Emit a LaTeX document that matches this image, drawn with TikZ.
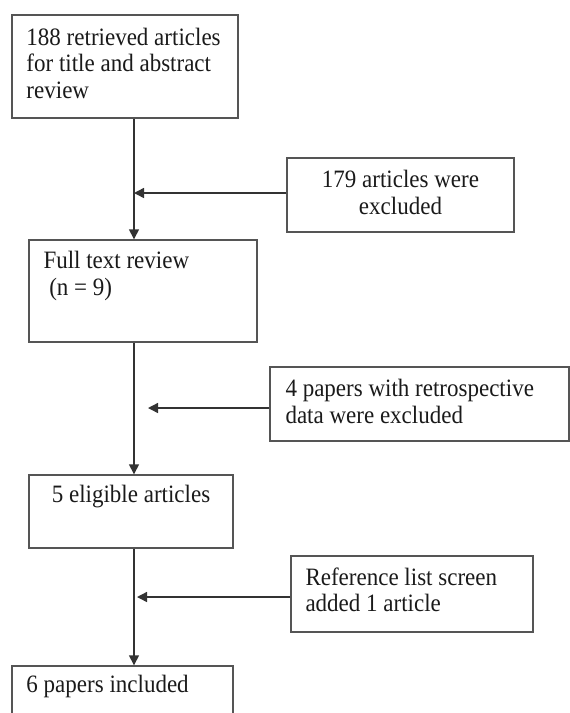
\documentclass[tikz,border=0pt]{standalone}
\usepackage{fontspec}
\setmainfont{Liberation Serif}[FakeStretch=0.92]
\usetikzlibrary{positioning, arrows.meta}
\definecolor{cLine}{HTML}{333333}
\definecolor{cBox}{HTML}{555555}
\definecolor{cText}{HTML}{1A1A1A}

\tikzset{
  flowbox/.style={draw=cBox, line width=1.4pt, inner sep=0pt},
  flowtxt/.style={inner sep=0pt, text=cText, font=\fontsize{25}{26.5}\selectfont},
  flowarr/.style={draw=cLine, line width=1.4pt, -{Triangle[length=10pt, width=10pt]}},
}

\begin{document}
\begin{tikzpicture}[x=1pt, y=-1pt]
  \clip (0,0) rectangle (570,713);
  \coordinate (trunk) at (134,0);

  % main column
  \node[flowbox, minimum width=226pt, minimum height=103pt] (retr) at (125,66.5) {};
  \node[flowbox, minimum width=228pt, minimum height=102pt] (full) at (143,291) {};
  \node[flowbox, minimum width=204pt, minimum height=73pt] (elig) at (131,511.5) {};
  \node[flowbox, minimum width=221pt, minimum height=74pt] (incl) at (122.5,703) {};

  % side boxes
  \node[flowbox, minimum width=227pt, minimum height=74pt] (excla) at (400.5,195) {};
  \node[flowbox, minimum width=299pt, minimum height=74pt] (exclb) at (419.5,404) {};
  \node[flowbox, minimum width=242pt, minimum height=76pt] (added) at (412,594) {};

  % texts
  \node[flowtxt, align=left, below right=13.5pt and 15pt of retr.north west] (retrtxt)
    {188 retrieved articles\\for title and abstract\\review};
  \node[flowtxt, align=left, below right=12pt and 15pt of full.north west] (fulltxt)
    {Full text review\\\ (n = 9)};
  \node[flowtxt, align=center, below=11pt of elig.north] (eligtxt) {5 eligible articles};
  \node[flowtxt, align=left, below right=10pt and 15pt of incl.north west] (incltxt)
    {6 papers included};
  \node[flowtxt, align=center, below=13pt of excla.north] (exclatxt)
    {179 articles were\\excluded};
  \node[flowtxt, align=left, below right=13pt and 16pt of exclb.north west] (exclbtxt)
    {4 papers with retrospective\\data were excluded};
  \node[flowtxt, align=left, below right=12pt and 15pt of added.north west] (addedtxt)
    {Reference list screen\\added 1 article};

  % connectors
  \draw[flowarr] (retr.south -| trunk) -- (full.north -| trunk);
  \draw[flowarr] (full.south -| trunk) -- (elig.north -| trunk);
  \draw[flowarr] (elig.south -| trunk) -- (incl.north -| trunk);
  \draw[flowarr] ([yshift=2pt]excla.west) -- ([yshift=2pt]excla.west -| trunk);
  \draw[flowarr, shorten >=14pt] ([yshift=-4pt]exclb.west) -- ([yshift=-4pt]exclb.west -| trunk);
  \draw[flowarr, shorten >=3pt] ([yshift=-3pt]added.west) -- ([yshift=-3pt]added.west -| trunk);
\end{tikzpicture}
\end{document}
